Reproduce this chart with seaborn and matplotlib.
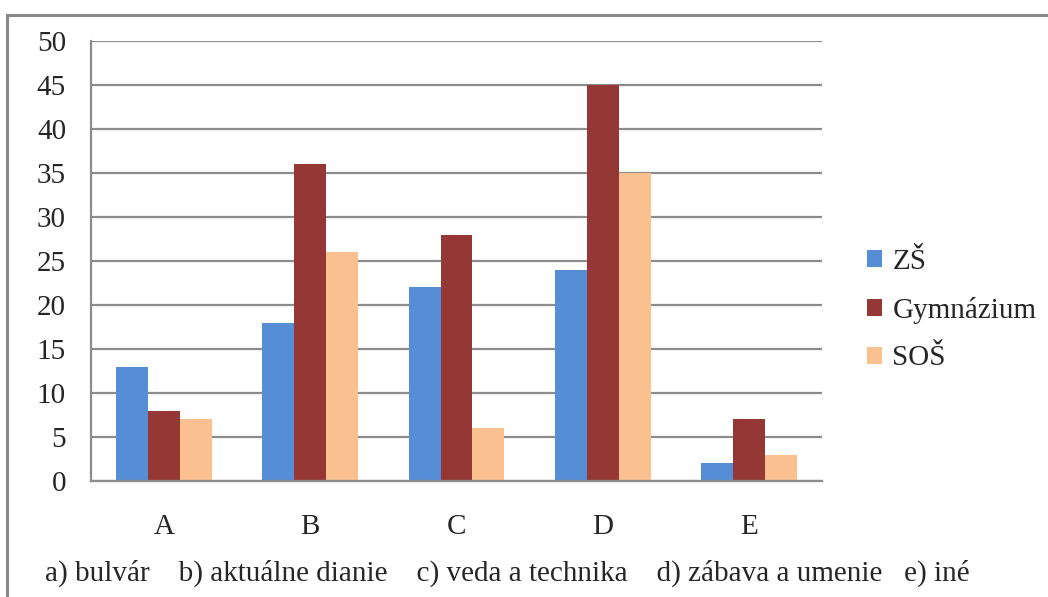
import matplotlib

matplotlib.use("Agg")
import matplotlib.pyplot as plt
import pandas as pd
import seaborn as sns
from matplotlib.patches import Patch

categories = ["A", "B", "C", "D", "E"]
series = ["ZŠ", "Gymnázium", "SOŠ"]
zs = [13, 18, 22, 24, 2]
gymnazium = [8, 36, 28, 45, 7]
sos = [7, 26, 6, 35, 3]
colors = ["#558ED5", "#953735", "#FAC090"]
caption = "a) bulvár    b) aktuálne dianie    c) veda a technika    d) zábava a umenie   e) iné"

df = pd.DataFrame({
    "cat": categories * 3,
    "series": [s for s in series for _ in categories],
    "value": zs + gymnazium + sos,
})

sns.set_style("white")
plt.rcParams["font.family"] = ["Liberation Serif", "DejaVu Serif"]
grid_col = "#8c8c8c"
fs = 21

fig = plt.figure(figsize=(10.48, 5.97), dpi=100)
ax = fig.add_axes([91 / 1048, 1 - 481 / 597, (822 - 91) / 1048, (481 - 41) / 597])

sns.barplot(data=df, x="cat", y="value", hue="series", hue_order=series,
            palette=colors, width=0.655, gap=0, saturation=1, ax=ax,
            legend=False, linewidth=0, errorbar=None)

ax.set_xlim(-0.5, 4.5)
ax.set_ylim(0, 50)
ax.set_yticks(range(0, 51, 5))
ax.yaxis.grid(True, color=grid_col, linewidth=1.6)
ax.set_axisbelow(True)
ax.set_xlabel("")
ax.set_ylabel("")
for side in ["top", "right"]:
    ax.spines[side].set_visible(False)
for side in ["left", "bottom"]:
    ax.spines[side].set_color(grid_col)
    ax.spines[side].set_linewidth(1.6)

ax.set_xticks([i - 0.5 for i in range(6)], minor=False)
ax.set_xticklabels([])
ax.set_xticks(range(5), minor=True)
ax.set_xticklabels(categories, minor=True)
ax.tick_params(axis="x", which="major", length=8, width=1.6, color=grid_col, direction="out")
ax.tick_params(axis="x", which="minor", length=0, pad=24, labelsize=fs)
ax.tick_params(axis="y", length=8, width=1.6, color=grid_col, direction="out", pad=10, labelsize=fs)

handles = [Patch(facecolor=c, edgecolor="none") for c in colors]
fig.legend(handles, series, loc="center left", bbox_to_anchor=(867 / 1048, 1 - 310 / 597),
           frameon=False, fontsize=fs, handlelength=0.52, handleheight=0.52,
           handletextpad=0.35, labelspacing=0.75, borderaxespad=0, borderpad=0)

fig.text(45 / 1048, 1 - 573 / 597, caption, fontsize=fs, va="center", ha="left")

# outer chart frame (left and top visible)
frame = plt.Rectangle((7 / 1048, -0.1), 1.2, 1 - 15 / 597 + 0.1, transform=fig.transFigure,
                      fill=False, edgecolor="#888888", linewidth=2.2)
fig.add_artist(frame)

fig.savefig("out.png", dpi=100)
